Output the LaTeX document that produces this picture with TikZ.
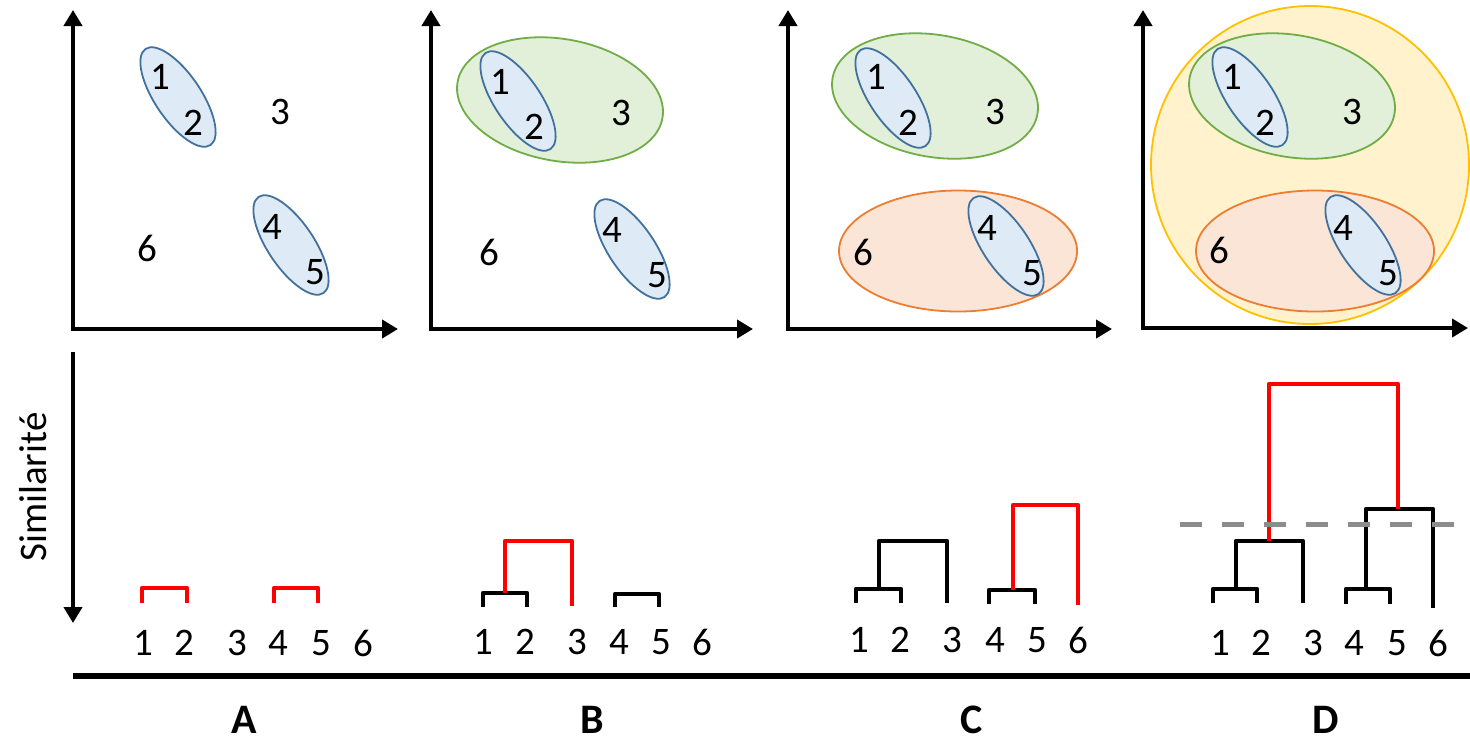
\documentclass[tikz,border=0pt]{standalone}
\usepackage{fontspec}
\setmainfont{Carlito}
\usetikzlibrary{arrows.meta}
\definecolor{bline}{HTML}{41719C}
\definecolor{bfill}{HTML}{DEEBF7}
\definecolor{gline}{HTML}{70AD47}
\definecolor{gfill}{HTML}{E2F0D9}
\definecolor{oline}{HTML}{ED7D31}
\definecolor{ofill}{HTML}{FBE5D6}
\definecolor{yline}{HTML}{FFC000}
\definecolor{yfill}{HTML}{FFF2CC}
\definecolor{dred}{HTML}{FF0000}
\definecolor{dgray}{HTML}{8C8C8C}
\begin{document}
\begin{tikzpicture}[x=0.5pt,y=-0.5pt,
  font=\fontsize{19.5}{20}\selectfont,
  axes/.style={line width=2pt,{Triangle[length=8pt,width=9pt]}-{Triangle[length=8pt,width=9pt]}},
  simaxis/.style={line width=2pt,-{Triangle[length=8pt,width=9pt]}},
  blueell/.style={draw=bline,fill=bfill,line width=0.9pt},
  greenell/.style={draw=gline,fill=gfill,line width=0.9pt},
  orangeell/.style={draw=oline,fill=ofill,line width=0.9pt},
  yellowell/.style={draw=yline,fill=yfill,line width=0.9pt},
  lab/.style={inner sep=0pt},
  letter/.style={inner sep=0pt,font=\fontsize{21}{22}\selectfont\bfseries},
  dk/.style={line width=2.3pt,black,line join=round},
  dr/.style={line width=2.3pt,dred,line join=round}]
\useasboundingbox (0,0) rectangle (1470,741);

% ---------------- Panel A ----------------
\draw[axes] (73,10) -- (73,329) -- (398,329);
\draw[blueell, rotate around={-56:(178,97)}] (178,97) ellipse (58 and 23);
\draw[blueell, rotate around={-56:(291,245)}] (291,245) ellipse (58 and 23);
\node[lab] (a1) at (160,77) {1};
\node[lab] (a2) at (193,123) {2};
\node[lab] (a3) at (280,112) {3};
\node[lab] (a4) at (272,227) {4};
\node[lab] (a5) at (315,272) {5};
\node[lab] (a6) at (147,248) {6};

% ---------------- Panel B ----------------
\draw[axes] (431,10) -- (431,329) -- (753,329);
\draw[greenell, rotate around={-10:(560,100)}] (560,100) ellipse (104 and 61);
\draw[blueell, rotate around={-56:(518,101)}] (518,101) ellipse (58 and 23);
\draw[blueell, rotate around={-56:(632,249)}] (632,249) ellipse (58 and 23);
\node[lab] (b1) at (500,82) {1};
\node[lab] (b2) at (534,127) {2};
\node[lab] (b3) at (621,113) {3};
\node[lab] (b4) at (612,230) {4};
\node[lab] (b5) at (657,275) {5};
\node[lab] (b6) at (489,252) {6};

% ---------------- Panel C ----------------
\draw[axes] (788,10) -- (788,329) -- (1112,329);
\draw[greenell, rotate around={-10:(935,96)}] (935,96) ellipse (104 and 61);
\draw[orangeell] (958,251) ellipse (119 and 60.5);
\draw[blueell, rotate around={-56:(893,98)}] (893,98) ellipse (58 and 23);
\draw[blueell, rotate around={-56:(1006,246)}] (1006,246) ellipse (58 and 23);
\node[lab] (c1) at (876,77) {1};
\node[lab] (c2) at (908,123) {2};
\node[lab] (c3) at (995,112) {3};
\node[lab] (c4) at (987,228) {4};
\node[lab] (c5) at (1032,273) {5};
\node[lab] (c6) at (863,252) {6};

% ---------------- Panel D ----------------
\draw[axes] (1143,10) -- (1143,328) -- (1468,328);
\draw[yellowell] (1310,165) circle (159);
\draw[greenell, rotate around={-10:(1292,96)}] (1292,96) ellipse (104 and 61);
\draw[orangeell] (1315,251) ellipse (119 and 60.5);
\draw[blueell, rotate around={-56:(1250,97)}] (1250,97) ellipse (58 and 23);
\draw[blueell, rotate around={-56:(1363,245)}] (1363,245) ellipse (58 and 23);
\node[lab] (d1) at (1232,77) {1};
\node[lab] (d2) at (1265,123) {2};
\node[lab] (d3) at (1352,112) {3};
\node[lab] (d4) at (1343,228) {4};
\node[lab] (d5) at (1388,273) {5};
\node[lab] (d6) at (1219,250) {6};

% ---------------- Similarity axis ----------------
\node[lab, rotate=90] (sim) at (33,487) {Similarité};
\draw[simaxis] (73,352) -- (73,623);

% ---------------- Dendrogram A ----------------
\foreach \x/\n in {143/1,184/2,237/3,278/4,321/5,363/6} \node[lab] (la\n) at (\x,643) {\n};
\draw[dr] (142,603) -- (142,588) -- (187,588) -- (187,603);
\draw[dr] (274,603) -- (274,588) -- (318,588) -- (318,603);

% ---------------- Dendrogram B ----------------
\foreach \x/\n in {483/1,525/2,577/3,619/4,661/5,702/6} \node[lab] (lb\n) at (\x,642) {\n};
\draw[dk] (483,607) -- (483,593) -- (527,593) -- (527,607);
\draw[dr] (505,593) -- (505,541) -- (572,541) -- (572,606);
\draw[dk] (615,607) -- (615,594) -- (659,594) -- (659,607);

% ---------------- Dendrogram C ----------------
\foreach \x/\n in {859/1,900/2,952/3,995/4,1037/5,1078/6} \node[lab] (lc\n) at (\x,640) {\n};
\draw[dk] (856,603) -- (856,589) -- (901,589) -- (901,603);
\draw[dk] (879,589) -- (879,541) -- (947,541) -- (947,603);
\draw[dk] (989,604) -- (989,590) -- (1035,590) -- (1035,604);
\draw[dr] (1013,590) -- (1013,505) -- (1078,505) -- (1078,605);

% ---------------- Dendrogram D ----------------
\foreach \x/\n in {1220/1,1261/2,1313/3,1354/4,1397/5,1438/6} \node[lab] (ld\n) at (\x,643) {\n};
\draw[dk] (1213,603) -- (1213,589) -- (1257,589) -- (1257,603);
\draw[dk] (1236,589) -- (1236,541) -- (1303,541) -- (1303,603);
\draw[dk] (1346,604) -- (1346,589) -- (1390,589) -- (1390,604);
\draw[dk] (1366,589) -- (1366,509) -- (1433,509) -- (1433,608);
\draw[dr] (1269,541) -- (1269,384) -- (1398,384) -- (1398,509);
\coordinate (cutL) at (1180,524);
\coordinate (cutR) at (1470,524);
\draw[dgray, line width=2.5pt, dash pattern=on 11pt off 10pt] (cutL) -- (cutR);

% ---------------- Bottom line and letters ----------------
\coordinate (baseL) at (73,676);
\coordinate (baseR) at (1470,676);
\draw[line width=3pt] (baseL) -- (baseR);
\node[letter] (lA) at (244,720) {A};
\node[letter] (lB) at (592,720) {B};
\node[letter] (lC) at (972,720) {C};
\node[letter] (lD) at (1326,720) {D};
\end{tikzpicture}
\end{document}
